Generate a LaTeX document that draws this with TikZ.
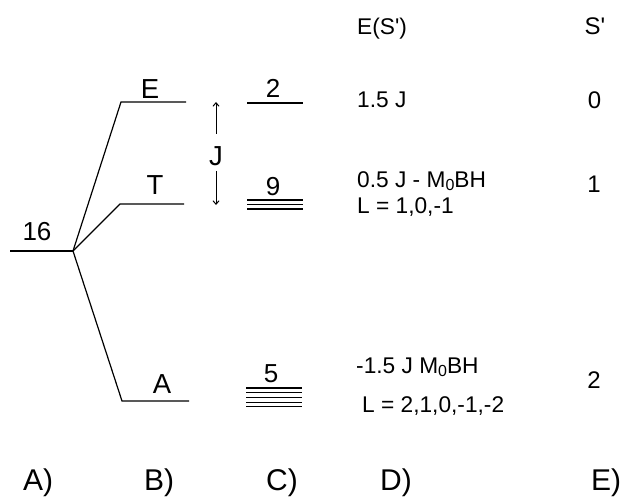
\documentclass[tikz,border=0pt]{standalone}
\usepackage{fontspec}
\setmainfont{Liberation Sans}
\usetikzlibrary{arrows.meta}
\newcommand{\sub}[1]{\raisebox{-0.3ex}{\fontsize{16}{16}\selectfont #1}}
\newcommand{\ap}{\textquotesingle}
\begin{document}
\begin{tikzpicture}[x=1pt,y=-1pt,
  lvl/.style={line width=1.2pt},
  sublvl/.style={line width=1.1pt},
  arr/.style={line width=1pt,-{Straight Barb[length=3.5pt,width=6pt]}},
  big/.style={font=\fontsize{26}{30}\selectfont, inner sep=0pt, anchor=base},
  sym/.style={font=\fontsize{27.5}{30}\selectfont, inner sep=0pt, anchor=base},
  col/.style={font=\fontsize{22.7}{26}\selectfont, inner sep=0pt, anchor=base west},
  spin/.style={font=\fontsize{24}{28}\selectfont, inner sep=0pt, anchor=base},
  foot/.style={font=\fontsize{30}{34}\selectfont, inner sep=0pt, anchor=base}]
\useasboundingbox (0,0) rectangle (623,497);
% column A
\coordinate (a0) at (10,251);
\coordinate (j) at (73,251);
\node[big] (n16) at (37,240) {16};
\draw[lvl] (a0) -- (j);
% column B
\coordinate (e1) at (121,102); \coordinate (e2) at (186,102);
\coordinate (t1) at (120,204); \coordinate (t2) at (184,204);
\coordinate (al1) at (122,401); \coordinate (al2) at (189,401);
\draw[lvl] (j) -- (e1) -- (e2);
\draw[lvl] (j) -- (t1) -- (t2);
\draw[lvl] (j) -- (al1) -- (al2);
\node[sym] (lE) at (150,99) {E};
\node[sym] (lT) at (155,194) {T};
\node[sym] (lA) at (162,393) {A};
% J arrow
\node[sym] (J) at (216,166) {J};
\coordinate (jt1) at (216,134); \coordinate (jt2) at (216,102);
\coordinate (jb1) at (216,171); \coordinate (jb2) at (216,205);
\draw[arr] (jt1) -- (jt2);
\draw[arr] (jb1) -- (jb2);
% column C
\node[big] (c2) at (273,98) {2};
\draw[sublvl] (247,103) -- (303,103);
\node[big] (c9) at (273,195) {9};
\foreach \y in {200,204.5,209} \draw[sublvl] (247,\y) -- (303,\y);
\node[big] (c5) at (271,382) {5};
\foreach \y in {388,392.7,397.4,402.1,406.8} \draw[sublvl] (246,\y) -- (302,\y);
% column D
\node[col] (dh) at (357,35) {E(S\ap)};
\node[col] (d0) at (357,108) {1.5 J};
\node[col] (d1a) at (357,187) {0.5 J - M\sub{0}BH};
\node[col] (d1b) at (357,213) {L = 1,0,-1};
\node[col] (d2a) at (356,373) {-1.5 J M\sub{0}BH};
\node[col] (d2b) at (362,412) {L = 2,1,0,-1,-2};
% column E
\node[spin] (eh) at (595,35) {S\ap};
\node[spin] (e0) at (594.5,109) {0};
\node[spin] (e1n) at (594,193) {1};
\node[spin] (e2n) at (594,388) {2};
% footer
\node[foot] (fA) at (38,490) {A)};
\node[foot] (fB) at (159,490) {B)};
\node[foot] (fC) at (282,490) {C)};
\node[foot] (fD) at (396,490) {D)};
\node[foot] (fE) at (606,490) {E)};
\end{tikzpicture}
\end{document}
